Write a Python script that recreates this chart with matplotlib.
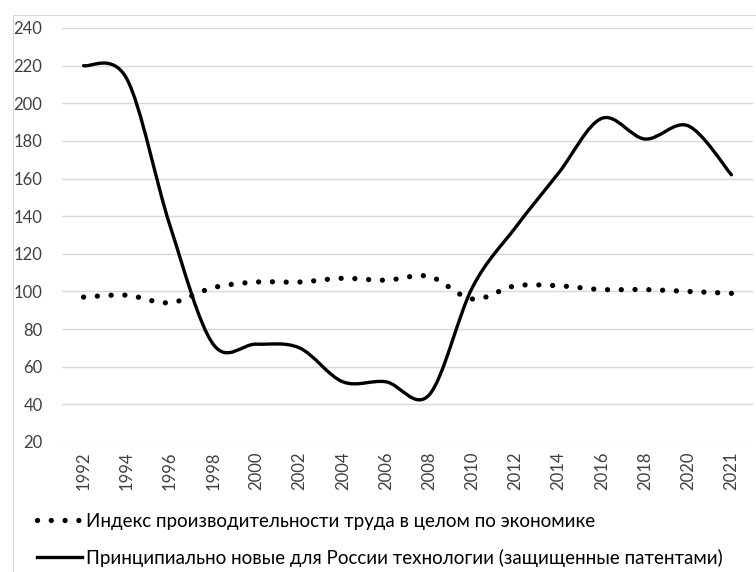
import matplotlib
matplotlib.use("Agg")
import matplotlib.pyplot as plt
import numpy as np
from matplotlib.path import Path
from matplotlib.patches import PathPatch, Rectangle
from matplotlib.lines import Line2D

plt.rcParams['font.family'] = ['Lato', 'DejaVu Sans']

years = ['1992', '1994', '1996', '1998', '2000', '2002', '2004', '2006',
         '2008', '2010', '2012', '2014', '2016', '2018', '2020', '2021']
productivity = [97, 98, 94, 102, 105, 105, 107, 106, 108, 96, 103, 103, 101, 101, 100, 99]
new_tech = [220, 213, 135, 72, 72, 70, 52, 52, 45, 102, 134, 163, 192, 181, 188, 162]

label_prod = 'Индекс производительности труда в целом по экономике'
label_tech = 'Принципиально новые для России технологии (защищенные патентами)'


def smooth_path(xs, ys):
    # Excel-like smoothed line: Catmull-Rom segments as cubic Bezier curves
    pts = np.column_stack([xs, ys]).astype(float)
    ext = np.vstack([pts[0], pts, pts[-1]])
    verts = [pts[0]]
    codes = [Path.MOVETO]
    for i in range(len(pts) - 1):
        p0, p1, p2, p3 = ext[i], ext[i + 1], ext[i + 2], ext[i + 3]
        verts += [p1 + (p2 - p0) / 6, p2 - (p3 - p1) / 6, p2]
        codes += [Path.CURVE4] * 3
    return Path(verts, codes)


fig = plt.figure(figsize=(7.56, 5.72), dpi=100)
ax = fig.add_axes([62 / 756, 1 - 442 / 572, (753 - 62) / 756, (442 - 28) / 572])

x = np.arange(len(years))
dots = (0, (0.01, 2.6))

ax.add_patch(PathPatch(smooth_path(x, productivity), fill=False, ec='black',
                       lw=3.8, linestyle=dots, capstyle='round', zorder=3))
ax.add_patch(PathPatch(smooth_path(x, new_tech), fill=False, ec='black',
                       lw=2.4, capstyle='round', joinstyle='round', zorder=3))

ax.set_xlim(-0.5, len(years) - 0.5)
ax.set_ylim(20, 240)
ax.set_yticks(np.arange(20, 241, 20))
ax.set_xticks(x)
ax.set_xticklabels(years, rotation=90)
ax.grid(axis='y', color='#d9d9d9', lw=1)
ax.set_axisbelow(True)
for s in ax.spines.values():
    s.set_visible(False)
ax.tick_params(axis='y', length=0, pad=14, labelsize=12, labelcolor='#404040')
ax.tick_params(axis='x', length=0, pad=7, labelsize=12, labelcolor='#404040')

# chart area border
fig.patches.append(Rectangle((13 / 756, -0.1), 1.2, (572 - 15) / 572 + 0.1,
                             transform=fig.transFigure, fill=False,
                             ec='#d9d9d9', lw=0.8))

handles = [Line2D([], [], color='black', lw=3.8, linestyle=dots, dash_capstyle='round'),
           Line2D([], [], color='black', lw=2.4)]
fig.legend(handles, [label_prod, label_tech], loc='upper left',
           bbox_to_anchor=(37 / 756, 1 - 513 / 572), frameon=False,
           fontsize=13.5, handlelength=2.4, handletextpad=0.2,
           labelspacing=1.0, borderaxespad=0, borderpad=0,
           labelcolor='#000000')

fig.savefig('out.png', dpi=100)
